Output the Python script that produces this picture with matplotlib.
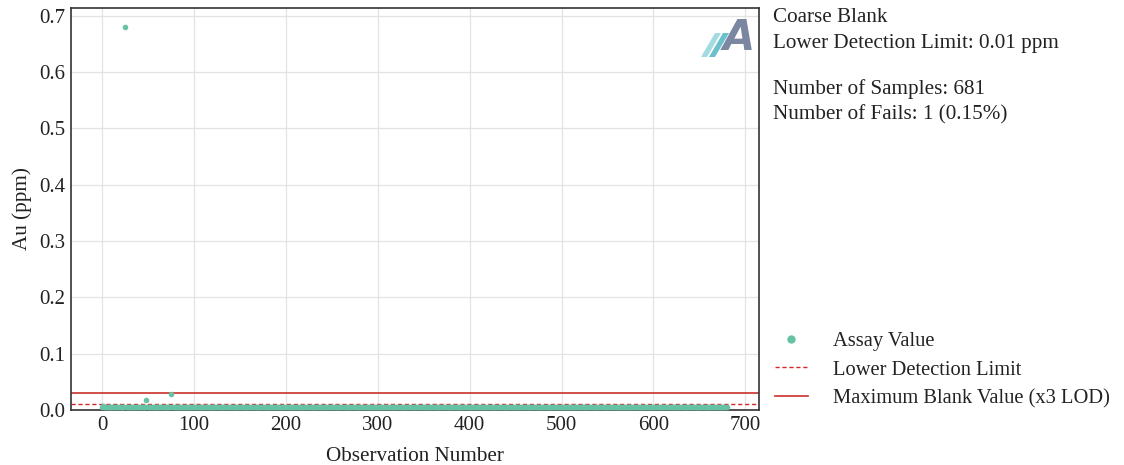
import matplotlib
matplotlib.use("Agg")
import matplotlib.pyplot as plt
from matplotlib.patches import Polygon
from matplotlib.lines import Line2D

# ---- data ----
n_samples = 681
base_value = 0.005              # typical assay (half the detection limit)
outlier_obs = [1, 25, 48, 75]
outlier_vals = [0.007, 0.68, 0.018, 0.028]
lod = 0.01
max_blank = 0.03

obs = list(range(0, n_samples))
au = [base_value] * n_samples
for o, v in zip(outlier_obs, outlier_vals):
    au[o] = v

info_lines = ["Coarse Blank", "Lower Detection Limit: 0.01 ppm", "",
              "Number of Samples: 681", "Number of Fails: 1 (0.15%)"]
legend_labels = ["Assay Value", "Lower Detection Limit", "Maximum Blank Value (x3 LOD)"]

plt.rcParams['font.family'] = ['Liberation Serif', 'DejaVu Serif']
fig = plt.figure(figsize=(11.24, 4.65), dpi=100)
ax = fig.add_axes([71/1124, 1-410/465, (759-71)/1124, (410-8)/465])

pt_color = "#66c2a5"
ax.scatter(obs, au, s=16, color=pt_color, zorder=3, linewidths=0)
ax.axhline(lod, color="#d62728", ls=(0, (3, 2)), lw=1.0, zorder=2)
ax.axhline(max_blank, color="#c9302c", ls="-", lw=1.2, zorder=2)

ax.set_xlim(-34, 715)
ax.set_ylim(0, 0.714)
ax.set_xticks(range(0, 701, 100))
ax.set_yticks([0.0, 0.1, 0.2, 0.3, 0.4, 0.5, 0.6, 0.7])
ax.set_yticklabels([f"{v:.1f}" for v in ax.get_yticks()])
ax.grid(True, color="#e3e3e3", lw=0.9)
ax.set_axisbelow(True)
ax.tick_params(labelsize=15, length=0, pad=4, colors="#222222")
for s in ax.spines.values():
    s.set_color("#333333")
    s.set_linewidth(1.2)
ax.set_xlabel("Observation Number", fontsize=15.2, color="#222222", labelpad=9)
ax.set_ylabel("Au (ppm)", fontsize=15.2, color="#222222", labelpad=5)

# logo (top right inside axes)
def px(x, y):
    return (x/1124, 1 - y/465)
stripes = [[(701, 57), (707, 57), (721, 33), (715, 33)],
           [(709, 57), (715, 57), (729, 33), (723, 33)]]
cols = ["#a4dbe0", "#6cc0cc"]
for poly, c in zip(stripes, cols):
    fig.patches.append(Polygon([px(*p) for p in poly], closed=True,
                               transform=fig.transFigure, color=c, zorder=5, lw=0))
fig.text(739/1124, 1-38/465, "A", fontsize=30, fontweight="bold", style="italic",
         family="DejaVu Sans", color="#7b87a0", ha="center", va="center")

# info text
ys = [17, 43, None, 89, 115]
for t, y in zip(info_lines, ys):
    if y is not None:
        fig.text(773/1124, 1-y/465, t, fontsize=15.2, va="center", ha="left", color="#222222")

handles = [Line2D([], [], marker="o", ls="", color=pt_color, markersize=5),
           Line2D([], [], color="#d62728", ls=(0, (3, 2)), lw=1.0),
           Line2D([], [], color="#c9302c", lw=1.2)]
fig.legend(handles, legend_labels, loc="center left", bbox_to_anchor=(775/1124, 1-370/465),
           frameon=False, fontsize=14.8, handlelength=1.6, handletextpad=1.2,
           labelspacing=0.45, borderpad=0, borderaxespad=0, labelcolor="#222222")

fig.savefig("out.png", dpi=100)
